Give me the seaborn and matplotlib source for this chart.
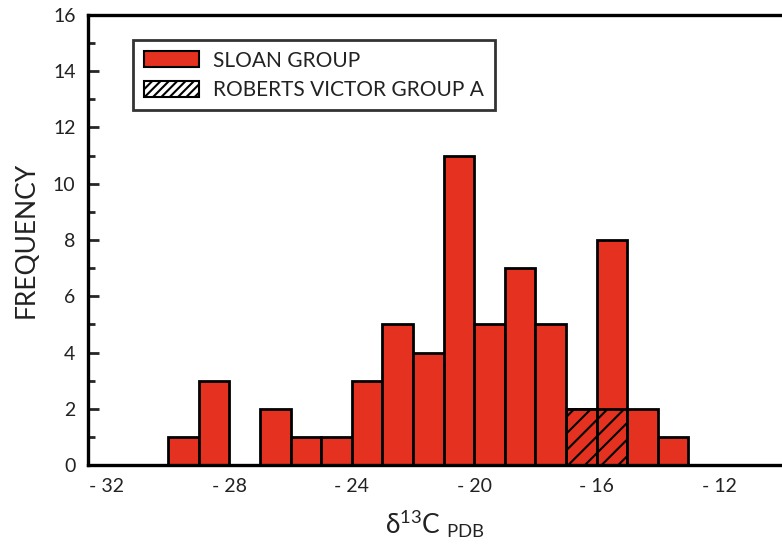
import numpy as np
import matplotlib
matplotlib.use("Agg")
import matplotlib.pyplot as plt
import seaborn as sns
from matplotlib.patches import Patch

# bin left edges (1 per mille bins) and counts
bin_left = [-30, -29, -28, -27, -26, -25, -24, -23, -22, -21, -20, -19, -18, -17, -16, -15, -14]
sloan_counts = [1, 3, 0, 2, 1, 1, 3, 5, 4, 11, 5, 7, 5, 0, 6, 2, 1]
rv_counts = [0, 0, 0, 0, 0, 0, 0, 0, 0, 0, 0, 0, 0, 2, 2, 0, 0]
xticks = [-32, -28, -24, -20, -16, -12]
xtick_labels = ["- 32", "- 28", "- 24", "- 20", "- 16", "- 12"]
legend_labels = ["SLOAN GROUP", "ROBERTS VICTOR GROUP A"]

RED = "#e5311f"

sns.set_style("white")
plt.rcParams["font.family"] = ["Lato", "DejaVu Sans"]
plt.rcParams["mathtext.fontset"] = "custom"
plt.rcParams["mathtext.rm"] = "Lato"
plt.rcParams["mathtext.it"] = "Lato"
plt.rcParams["hatch.linewidth"] = 1.5

edges = bin_left + [bin_left[-1] + 1]
centers = np.array(bin_left) + 0.5
total = np.array(sloan_counts) + np.array(rv_counts)

fig = plt.figure(figsize=(7.82, 5.48), dpi=100)
ax = fig.add_axes([88 / 782, 83 / 548, 694 / 782, 450 / 548])

sns.histplot(x=centers, weights=total, bins=edges, color=RED, alpha=1,
             edgecolor="black", linewidth=2, ax=ax)
sns.histplot(x=centers, weights=rv_counts, bins=edges, fill=True,
             facecolor="none", alpha=1, edgecolor="black", linewidth=2,
             hatch="//", ax=ax)

ax.set_xlim(-32.62, -9.94)
ax.set_ylim(0, 16)
ax.set_xticks(xticks)
ax.set_xticklabels(xtick_labels, fontsize=14, color="#222222")
ax.set_yticks(range(0, 17, 2))
ax.set_yticks(range(0, 17), minor=True)
ax.tick_params(axis="y", which="major", direction="in", length=8, width=2,
               labelsize=14, pad=9, left=True, labelcolor="#222222")
ax.tick_params(axis="y", which="minor", direction="in", length=5, width=2, left=True)
ax.tick_params(axis="x", length=0, pad=9)

for side in ["left", "bottom", "top"]:
    ax.spines[side].set_linewidth(2.4)
    ax.spines[side].set_color("black")
ax.spines["right"].set_visible(False)

ax.set_ylabel("FREQUENCY", fontsize=19, labelpad=10, color="#222222")
ax.set_xlabel(r"δ$^{13}$C $_{\mathrm{PDB}}$", fontsize=19, labelpad=10, color="#222222")

# legend: white swatch for the hatched group, as in the original
handles = [Patch(facecolor=RED, edgecolor="black", linewidth=1.5),
           Patch(facecolor="white", edgecolor="black", linewidth=1.5, hatch="////")]
leg = ax.legend(handles, legend_labels, loc="upper left",
                bbox_to_anchor=(0.065, 0.944), borderaxespad=0,
                fontsize=15, frameon=True, fancybox=False, handlelength=2.65,
                handleheight=0.8, handletextpad=0.7, labelspacing=0.45,
                borderpad=0.5)
leg.get_frame().set_edgecolor("black")
leg.get_frame().set_linewidth(2)
for t in leg.get_texts():
    t.set_color("#222222")

fig.savefig("out.png", dpi=100)
